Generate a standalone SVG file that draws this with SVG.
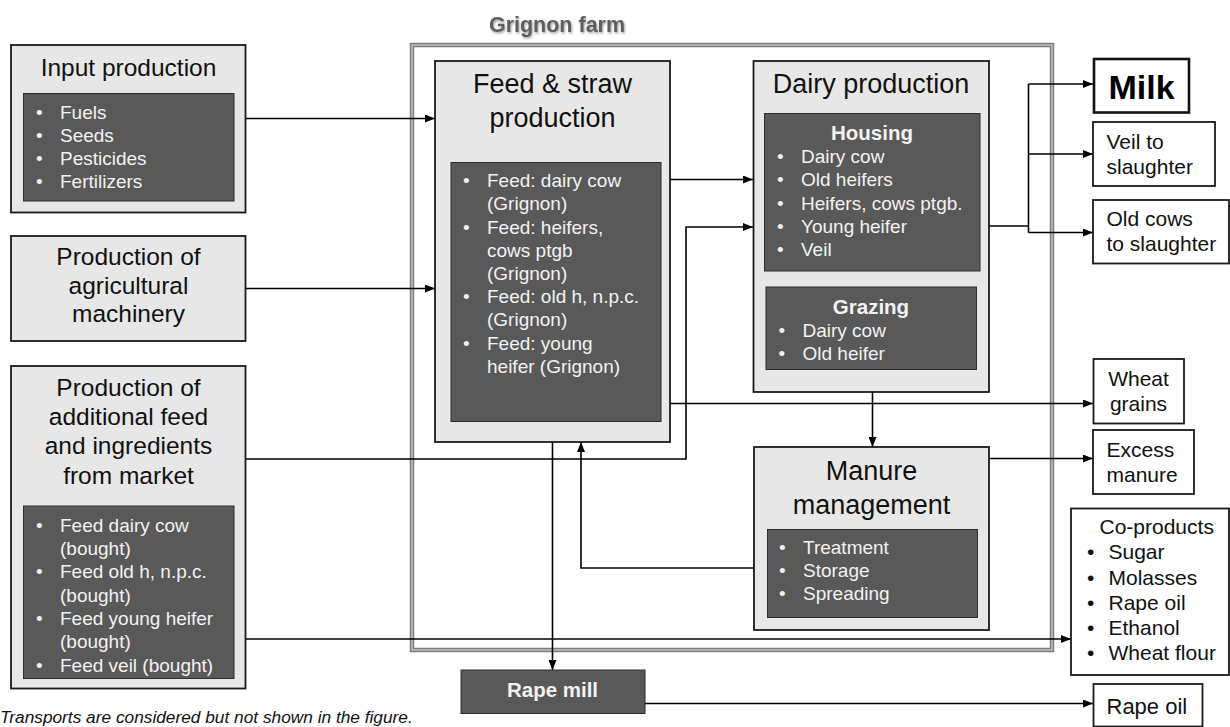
<svg xmlns="http://www.w3.org/2000/svg" width="1230" height="727" viewBox="0 0 1230 727">
  <defs>
    <marker id="arrow" viewBox="0 0 10 8" refX="10" refY="4" markerWidth="10" markerHeight="8" markerUnits="userSpaceOnUse" orient="auto">
      <path d="M0,0 L10,4 L0,8 z" fill="#000"/>
    </marker>
    <filter id="glow" x="-10%" y="-30%" width="120%" height="160%">
      <feDropShadow dx="1" dy="1.5" stdDeviation="1.2" flood-color="#8a8a8a" flood-opacity="0.8"/>
    </filter>
    <style>
      text { font-family: "Liberation Sans", Arial, sans-serif; }
      .panel { fill: #e7e7e7; stroke: #1a1a1a; stroke-width: 1.8; }
      .dark { fill: #595959; stroke: #2e2e2e; stroke-width: 1; }
      .out { fill: #fff; stroke: #1a1a1a; stroke-width: 1.8; }
      .title24 { font-size: 24.5px; fill: #111; text-anchor: middle; }
      .title27 { font-size: 27px; fill: #111; text-anchor: middle; }
      .item { font-size: 19px; fill: #f2f2f2; }
      .sub { font-size: 20.5px; font-weight: bold; fill: #f2f2f2; text-anchor: middle; }
      .outtxt { font-size: 21px; fill: #111; }
      .conn { fill: none; stroke: #000; stroke-width: 1.6; }
    </style>
  </defs>

  <rect width="1230" height="727" fill="#fff"/>

  <!-- Farm boundary: grey double line -->
  <g id="farm">
    <rect x="412" y="45" width="640" height="605" fill="none" stroke="#7f7f7f" stroke-width="4.5"/>
    <rect x="412" y="45" width="640" height="605" fill="none" stroke="#cfcfcf" stroke-width="1.2"/>
    <text x="557" y="32" font-size="21.5" font-weight="bold" fill="#5f5f5f" text-anchor="middle" filter="url(#glow)">Grignon farm</text>
  </g>

  <!-- Connectors -->
  <g id="connectors">
    <path class="conn" d="M246,118.5 H435" marker-end="url(#arrow)"/>
    <path class="conn" d="M246,288.5 H435" marker-end="url(#arrow)"/>
    <path class="conn" d="M246,459 H686 V227 H753" marker-end="url(#arrow)"/>
    <path class="conn" d="M246,639 H1071" marker-end="url(#arrow)"/>
    <path class="conn" d="M670,179.5 H753" marker-end="url(#arrow)"/>
    <path class="conn" d="M670,403.5 H1093" marker-end="url(#arrow)"/>
    <path class="conn" d="M552.5,442 V670" marker-end="url(#arrow)"/>
    <path class="conn" d="M754,568 H581 V442" marker-end="url(#arrow)"/>
    <path class="conn" d="M872.5,392 V447" marker-end="url(#arrow)"/>
    <path class="conn" d="M989,458.5 H1093" marker-end="url(#arrow)"/>
    <path class="conn" d="M989,226 H1028.5"/>
    <path class="conn" d="M1028.5,84 V232.5"/>
    <path class="conn" d="M1028.5,84 H1093" marker-end="url(#arrow)"/>
    <path class="conn" d="M1028.5,154 H1093" marker-end="url(#arrow)"/>
    <path class="conn" d="M1028.5,232.5 H1093" marker-end="url(#arrow)"/>
    <path class="conn" d="M645,703.5 H1093" marker-end="url(#arrow)"/>
  </g>

  <!-- Input production -->
  <g id="input-production">
    <rect class="panel" x="11" y="45" width="234.5" height="167.5"/>
    <text class="title24" x="128.5" y="76">Input production</text>
    <rect class="dark" x="23.5" y="93.5" width="210.5" height="107.5"/>
    <g class="item">
      <text x="36" y="119">•</text><text x="60" y="119">Fuels</text>
      <text x="36" y="142">•</text><text x="60" y="142">Seeds</text>
      <text x="36" y="165">•</text><text x="60" y="165">Pesticides</text>
      <text x="36" y="188">•</text><text x="60" y="188">Fertilizers</text>
    </g>
  </g>

  <!-- Agricultural machinery -->
  <g id="machinery">
    <rect class="panel" x="11" y="236" width="234.5" height="105"/>
    <text class="title24" x="128.5" y="265">Production of</text>
    <text class="title24" x="128.5" y="294">agricultural</text>
    <text class="title24" x="128.5" y="322">machinery</text>
  </g>

  <!-- Additional feed from market -->
  <g id="market-feed">
    <rect class="panel" x="11" y="366" width="234.5" height="322.5"/>
    <text class="title24" x="128.5" y="396">Production of</text>
    <text class="title24" x="128.5" y="425">additional feed</text>
    <text class="title24" x="128.5" y="454">and ingredients</text>
    <text class="title24" x="128.5" y="484">from market</text>
    <rect class="dark" x="23.5" y="506" width="210.5" height="172.5"/>
    <g class="item">
      <text x="36" y="532">•</text><text x="60" y="532">Feed dairy cow</text>
      <text x="60" y="555">(bought)</text>
      <text x="36" y="578">•</text><text x="60" y="578">Feed old h, n.p.c.</text>
      <text x="60" y="601.5">(bought)</text>
      <text x="36" y="625">•</text><text x="60" y="625">Feed young heifer</text>
      <text x="60" y="648">(bought)</text>
      <text x="36" y="671.5">•</text><text x="60" y="671.5">Feed veil (bought)</text>
    </g>
  </g>

  <!-- Feed & straw production -->
  <g id="feed-straw">
    <rect class="panel" x="435" y="61" width="235" height="381"/>
    <text class="title27" x="552.5" y="93">Feed &amp; straw</text>
    <text class="title27" x="552.5" y="127">production</text>
    <rect class="dark" x="451" y="162.5" width="210" height="259"/>
    <g class="item">
      <text x="463" y="187">•</text><text x="487" y="187">Feed: dairy cow</text>
      <text x="487" y="210">(Grignon)</text>
      <text x="463" y="233.5">•</text><text x="487" y="233.5">Feed: heifers,</text>
      <text x="487" y="257">cows ptgb</text>
      <text x="487" y="280">(Grignon)</text>
      <text x="463" y="303">•</text><text x="487" y="303">Feed: old h, n.p.c.</text>
      <text x="487" y="326">(Grignon)</text>
      <text x="463" y="349.5">•</text><text x="487" y="349.5">Feed: young</text>
      <text x="487" y="373">heifer (Grignon)</text>
    </g>
  </g>

  <!-- Dairy production -->
  <g id="dairy">
    <rect class="panel" x="753.5" y="61" width="235.5" height="331"/>
    <text class="title27" x="871" y="93">Dairy production</text>
    <rect class="dark" x="764.5" y="113.5" width="215.5" height="157.5"/>
    <text class="sub" x="872" y="140">Housing</text>
    <g class="item">
      <text x="777" y="163">•</text><text x="801" y="163">Dairy cow</text>
      <text x="777" y="186">•</text><text x="801" y="186">Old heifers</text>
      <text x="777" y="209.5">•</text><text x="801" y="209.5">Heifers, cows ptgb.</text>
      <text x="777" y="233">•</text><text x="801" y="233">Young heifer</text>
      <text x="777" y="256">•</text><text x="801" y="256">Veil</text>
    </g>
    <rect class="dark" x="766" y="287" width="210.5" height="82.5"/>
    <text class="sub" x="871" y="313.5">Grazing</text>
    <g class="item">
      <text x="778.5" y="337">•</text><text x="802.5" y="337">Dairy cow</text>
      <text x="778.5" y="360">•</text><text x="802.5" y="360">Old heifer</text>
    </g>
  </g>

  <!-- Manure management -->
  <g id="manure">
    <rect class="panel" x="754" y="447" width="235" height="183"/>
    <text class="title27" x="871.5" y="480">Manure</text>
    <text class="title27" x="871.5" y="514">management</text>
    <rect class="dark" x="767.5" y="529.5" width="210" height="88"/>
    <g class="item">
      <text x="779" y="553.5">•</text><text x="803" y="553.5">Treatment</text>
      <text x="779" y="576.5">•</text><text x="803" y="576.5">Storage</text>
      <text x="779" y="599.5">•</text><text x="803" y="599.5">Spreading</text>
    </g>
  </g>

  <!-- Rape mill -->
  <g id="rape-mill">
    <rect x="461" y="670" width="184" height="43.5" fill="#595959" stroke="#2e2e2e" stroke-width="1"/>
    <text x="552.5" y="697" font-size="20.5" font-weight="bold" fill="#f2f2f2" text-anchor="middle">Rape mill</text>
  </g>

  <!-- Outputs -->
  <g id="milk">
    <rect x="1094" y="59" width="95" height="53.5" fill="#fff" stroke="#111" stroke-width="2.6"/>
    <text x="1141.5" y="98.5" font-size="34" font-weight="bold" fill="#000" text-anchor="middle">Milk</text>
  </g>
  <g id="veil-slaughter">
    <rect class="out" x="1093" y="122" width="122" height="64"/>
    <text class="outtxt" x="1106.5" y="148.5">Veil to</text>
    <text class="outtxt" x="1106.5" y="173.5">slaughter</text>
  </g>
  <g id="old-cows">
    <rect class="out" x="1093" y="200" width="136" height="63.5"/>
    <text class="outtxt" x="1106.5" y="226">Old cows</text>
    <text class="outtxt" x="1106.5" y="251">to slaughter</text>
  </g>
  <g id="wheat-grains">
    <rect class="out" x="1093.5" y="359" width="90.5" height="64.5"/>
    <text class="outtxt" x="1138.5" y="386" text-anchor="middle">Wheat</text>
    <text class="outtxt" x="1138.5" y="410.5" text-anchor="middle">grains</text>
  </g>
  <g id="excess-manure">
    <rect class="out" x="1093" y="430" width="101" height="64"/>
    <text class="outtxt" x="1106.5" y="457">Excess</text>
    <text class="outtxt" x="1106.5" y="482">manure</text>
  </g>
  <g id="co-products">
    <rect class="out" x="1071" y="508.5" width="158" height="166.5"/>
    <text class="outtxt" x="1099.5" y="533.5">Co-products</text>
    <text class="outtxt" x="1087" y="559">•</text><text class="outtxt" x="1108.5" y="559">Sugar</text>
    <text class="outtxt" x="1087" y="584.5">•</text><text class="outtxt" x="1108.5" y="584.5">Molasses</text>
    <text class="outtxt" x="1087" y="609.5">•</text><text class="outtxt" x="1108.5" y="609.5">Rape oil</text>
    <text class="outtxt" x="1087" y="635">•</text><text class="outtxt" x="1108.5" y="635">Ethanol</text>
    <text class="outtxt" x="1087" y="660">•</text><text class="outtxt" x="1108.5" y="660">Wheat flour</text>
  </g>
  <g id="rape-oil">
    <rect class="out" x="1093.5" y="684" width="109" height="42.5"/>
    <text x="1106.5" y="713.5" font-size="22" fill="#111">Rape oil</text>
  </g>

  <text x="0" y="723" font-size="17.3" font-style="italic" fill="#111">Transports are considered but not shown in the figure.</text>
</svg>
